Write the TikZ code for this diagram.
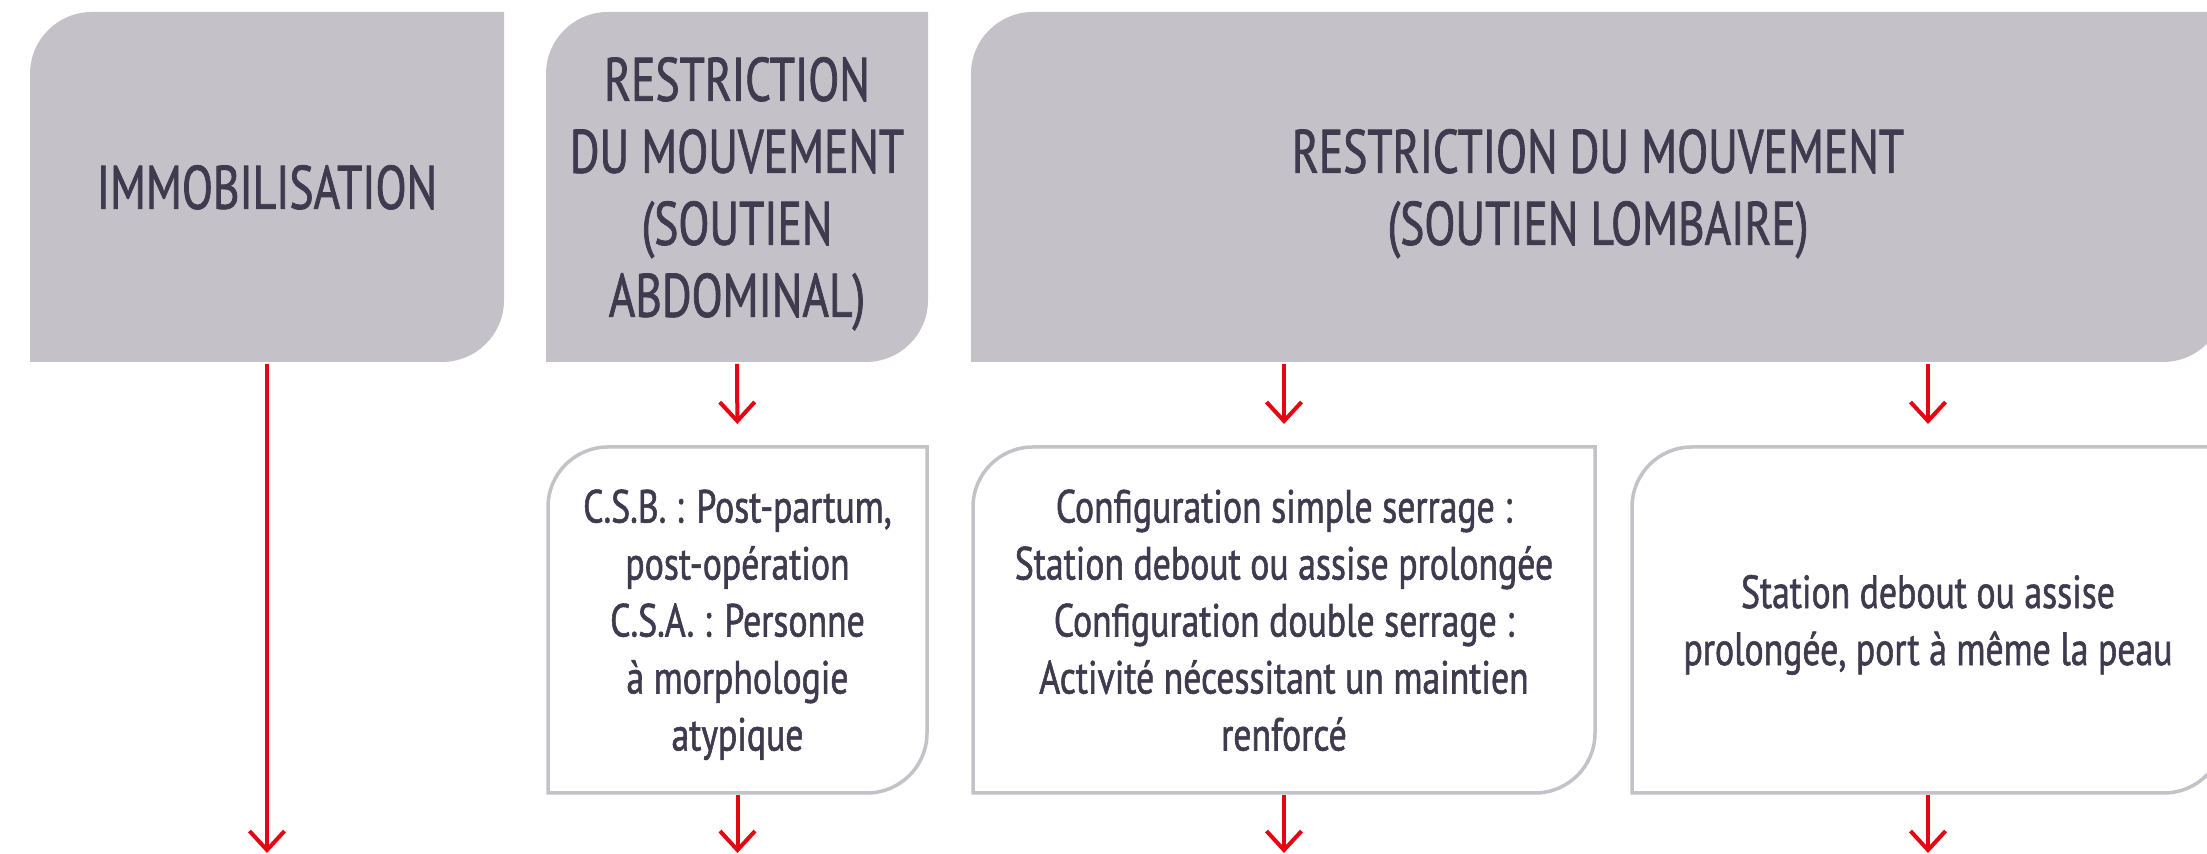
\documentclass[tikz,border=0pt]{standalone}
\usepackage{fontspec}
\setmainfont[FakeStretch=0.74,FakeBold=1.2]{PT Sans}
\newfontfamily\lowfont[FakeStretch=0.77,FakeBold=1.2]{PT Sans}
\usetikzlibrary{arrows.meta,backgrounds}
\definecolor{boxgray}{HTML}{C5C1C8}
\definecolor{txt}{HTML}{3F3A4E}
\definecolor{arrred}{HTML}{E30613}
\newcommand\tbshape[3]{\path[#2] (#1.south west) -- ([yshift=-#3]#1.north west) arc[start angle=180,end angle=90,radius=#3] -- (#1.north east) -- ([yshift=#3]#1.south east) arc[start angle=0,end angle=-90,radius=#3] -- cycle;}
\begin{document}
\begin{tikzpicture}[x=0.5pt,y=0.5pt,
  hbox/.style={rectangle, inner sep=0pt, outer sep=0pt, align=center, text=txt, minimum height=175pt, text depth=0pt, font=\fontsize{30.7}{36}\selectfont},
  lbox/.style={rectangle, inner sep=0pt, outer sep=0pt, align=center, text=txt, minimum height=173pt, text depth=0pt, font=\lowfont\fontsize{23.2}{28.5}\selectfont},
  arr/.style={draw=arrred, line width=2pt, -{Straight Barb[length=9.5pt,width=17.5pt]}},
  topfill/.style={fill=boxgray},
  lowline/.style={draw=boxgray, line width=1.75pt, fill=white}
]
\useasboundingbox (0,0) rectangle (2207,854);

\node[hbox, minimum width=237pt] (t1) at (267,667) {IMMOBILISATION};
\node[hbox, minimum width=191pt] (t2) at (737,667) {RESTRICTION\\DU MOUVEMENT\\(SOUTIEN\\ABDOMINAL)};
\node[hbox, minimum width=627pt] (t3) at (1598,667) {RESTRICTION DU MOUVEMENT\\(SOUTIEN LOMBAIRE)};

\node[lbox, minimum width=189.5pt] (b2) at (737.5,234) {C.S.B. : Post-partum,\\post-opération\\C.S.A. : Personne\\à morphologie\\atypique};
\node[lbox, minimum width=311pt] (b3) at (1284,234) {Configuration simple serrage :\\Station debout ou assise prolongée\\Configuration double serrage :\\Activité nécessitant un maintien\\renforcé};
\node[lbox, minimum width=296pt] (b4) at (1928,234) {Station debout ou assise\\prolongée, port à même la peau};

\coordinate (e1) at (267,1);
\coordinate (e2) at (737.5,1);
\coordinate (e3) at (1284,1);
\coordinate (e4) at (1928,1);

\begin{scope}[on background layer]
\fill[white] (0,0) rectangle (2207,854);
\tbshape{t1}{topfill}{31pt}
\tbshape{t2}{topfill}{31pt}
\tbshape{t3}{topfill}{31pt}
\tbshape{b2}{lowline}{30pt}
\tbshape{b3}{lowline}{30pt}
\tbshape{b4}{lowline}{30pt}
\end{scope}

\draw[arr, shorten <=1pt] (t1.south) -- (e1);
\draw[arr, shorten <=1pt, shorten >=11.5pt] (t2.south) -- (b2.north);
\draw[arr, shorten <=1pt, shorten >=11.5pt] (b3.north |- t3.south) -- (b3.north);
\draw[arr, shorten <=1pt, shorten >=11.5pt] (b4.north |- t3.south) -- (b4.north);
\draw[arr, shorten <=1pt] (b2.south) -- (e2);
\draw[arr, shorten <=1pt] (b3.south) -- (e3);
\draw[arr, shorten <=1pt] (b4.south) -- (e4);
\end{tikzpicture}
\end{document}
